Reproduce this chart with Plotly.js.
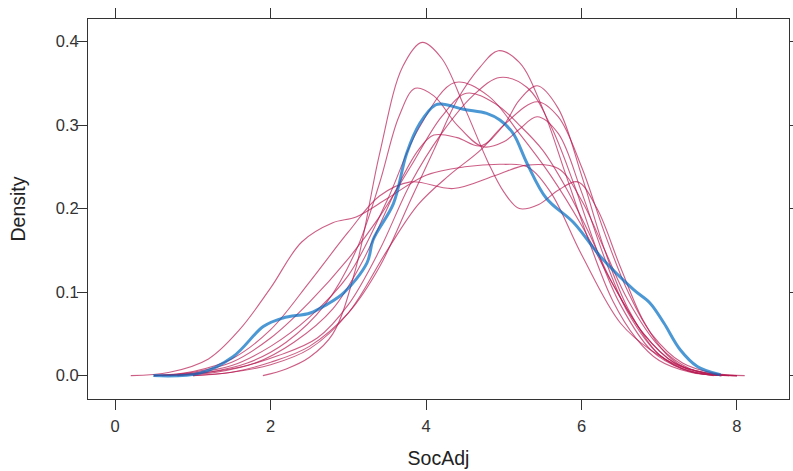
<!DOCTYPE html>
<html>
<head>
<meta charset="utf-8">
<script src="https://cdn.plot.ly/plotly-3.0.1.min.js"></script>
<style>html,body{margin:0;padding:0;background:#fff;}#chart{width:793px;height:471px;}</style>
</head>
<body>
<div id="chart"></div>
<script>
// Observed density (blue)
const obsX = [0.49,1.09,1.52,1.91,2.16,2.51,2.72,2.94,3.24,3.32,3.58,3.75,3.92,4.12,4.22,4.48,4.78,4.95,5.12,5.30,5.55,5.9,6.24,6.67,6.88,7.06,7.27,7.49,7.79];
const obsY = [0,0.003,0.023,0.059,0.069,0.075,0.085,0.099,0.135,0.163,0.206,0.266,0.302,0.324,0.325,0.319,0.314,0.306,0.290,0.254,0.212,0.183,0.143,0.103,0.087,0.063,0.031,0.011,0.001];

// Imputed densities (red), one pair of arrays per imputation
const impAx = [1.9,2.2,2.5,2.8,3.1,3.4,3.7,3.95,4.2,4.5,4.8,5.0,5.2,5.45,5.7,5.95,6.2,6.5,6.8,7.1,7.4,7.7];
const impAy = [0,0.008,0.022,0.05,0.13,0.265,0.37,0.399,0.38,0.32,0.255,0.22,0.2,0.205,0.222,0.232,0.2,0.13,0.065,0.025,0.006,0];
const impBx = [1.0,1.5,2.0,2.5,3.0,3.4,3.8,4.1,4.4,4.7,4.93,5.2,5.5,5.8,6.1,6.4,6.7,7.0,7.4,7.8];
const impBy = [0,0.004,0.016,0.035,0.075,0.13,0.21,0.27,0.33,0.37,0.389,0.375,0.32,0.24,0.16,0.09,0.045,0.018,0.004,0];
const impCx = [0.7,1.2,1.7,2.2,2.7,3.1,3.4,3.65,3.86,4.1,4.4,4.73,5.0,5.2,5.43,5.7,6.0,6.3,6.6,7.0,7.4,7.8];
const impCy = [0,0.004,0.015,0.04,0.085,0.15,0.23,0.31,0.344,0.335,0.3,0.274,0.28,0.295,0.31,0.29,0.22,0.14,0.075,0.025,0.005,0];
const impDx = [0.5,1,1.5,2,2.5,3,3.5,3.9,4.37,4.8,5.2,5.6,6.0,6.4,6.8,7.2,7.6,8.0];
const impDy = [0,0.003,0.012,0.035,0.07,0.12,0.21,0.295,0.351,0.335,0.29,0.24,0.18,0.11,0.05,0.015,0.003,0];
const impEx = [0.6,1.1,1.6,2.1,2.6,3.0,3.4,3.8,4.2,4.6,4.95,5.3,5.6,5.9,6.2,6.5,6.9,7.3,7.7,8.0];
const impEy = [0,0.003,0.01,0.024,0.045,0.085,0.15,0.23,0.29,0.335,0.357,0.345,0.3,0.23,0.15,0.085,0.03,0.008,0.001,0];
const impFx = [0.8,1.3,1.8,2.3,2.8,3.2,3.6,3.9,4.1,4.4,4.7,5.0,5.2,5.43,5.7,6.0,6.3,6.6,7.0,7.4,7.9];
const impFy = [0,0.004,0.015,0.04,0.08,0.14,0.22,0.27,0.288,0.285,0.275,0.3,0.33,0.347,0.32,0.24,0.15,0.08,0.025,0.005,0];
const impGx = [0.5,1.0,1.5,2.0,2.5,3.0,3.4,3.8,4.2,4.52,4.9,5.2,5.5,5.8,6.1,6.4,6.8,7.2,7.6,8.0];
const impGy = [0,0.004,0.016,0.045,0.088,0.14,0.19,0.25,0.31,0.338,0.325,0.3,0.27,0.225,0.17,0.11,0.05,0.015,0.003,0];
const impHx = [1.0,1.5,2.0,2.5,3.0,3.5,3.9,4.3,4.7,5.0,5.43,5.7,6.0,6.3,6.6,6.9,7.3,7.7,8.1];
const impHy = [0,0.004,0.013,0.032,0.075,0.15,0.205,0.24,0.27,0.3,0.328,0.31,0.25,0.17,0.1,0.05,0.015,0.003,0];
const impKx = [0.2,0.7,1.2,1.6,2.0,2.4,2.8,3.1,3.5,4.0,4.5,5.0,5.3,5.6,6.0,6.5,6.9,7.3,7.7,8.0];
const impKy = [0,0.004,0.02,0.055,0.105,0.16,0.183,0.19,0.212,0.24,0.25,0.253,0.25,0.22,0.145,0.063,0.03,0.01,0.002,0];
const impLx = [0.5,1.0,1.5,2.0,2.5,3.0,3.4,3.8,4.35,4.9,5.3,5.7,6.0,6.3,6.6,7.0,7.4,7.8];
const impLy = [0,0.005,0.02,0.055,0.112,0.172,0.215,0.232,0.224,0.24,0.252,0.248,0.21,0.15,0.09,0.035,0.008,0];

const xTicks = [0,2,4,6,8];
const yTicks = [0.0,0.1,0.2,0.3,0.4];
const yTickLabels = ["0.0","0.1","0.2","0.3","0.4"];

const imputed = [[impAx,impAy],[impBx,impBy],[impCx,impCy],[impDx,impDy],[impEx,impEy],
                 [impFx,impFy],[impGx,impGy],[impHx,impHy],[impKx,impKy],[impLx,impLy]];

const traces = imputed.map(p => ({
  x: p[0], y: p[1], type: 'scatter', mode: 'lines',
  line: {color: 'rgba(182,26,81,0.7)', width: 1.1, shape: 'spline', smoothing: 1},
  hoverinfo: 'skip', showlegend: false
}));
traces.push({
  x: obsX, y: obsY, type: 'scatter', mode: 'lines',
  line: {color: 'rgba(0,108,194,0.7)', width: 3, shape: 'spline', smoothing: 1},
  hoverinfo: 'skip', showlegend: false
});

const FONT = 'Liberation Sans, Arial, sans-serif';
const axisCommon = {
  showgrid: false, zeroline: false, showline: true, mirror: 'ticks',
  linecolor: '#333', linewidth: 1, ticks: 'outside', ticklen: 10, tickwidth: 1,
  tickcolor: '#333', tickfont: {family: FONT, size: 16.5, color: '#333'}
};

const layout = {
  width: 793, height: 471,
  margin: {l: 88, r: 4, t: 19, b: 72},
  paper_bgcolor: '#fff', plot_bgcolor: '#fff',
  xaxis: Object.assign({}, axisCommon, {
    range: [-0.35, 8.67], tickvals: xTicks, ticktext: xTicks.map(String),
    ticklabelstandoff: 2,
    title: {text: 'SocAdj', font: {family: FONT, size: 19.5, color: '#222'}, standoff: 17},
    automargin: false
  }),
  yaxis: Object.assign({}, axisCommon, {
    range: [-0.028, 0.427], tickvals: yTicks, ticktext: yTickLabels,
    ticklabelstandoff: -5,
    title: {text: 'Density', font: {family: FONT, size: 19.5, color: '#222'}, standoff: 24},
    automargin: false
  })
};

Plotly.newPlot('chart', traces, layout, {staticPlot: true, displayModeBar: false});
</script>
</body>
</html>
